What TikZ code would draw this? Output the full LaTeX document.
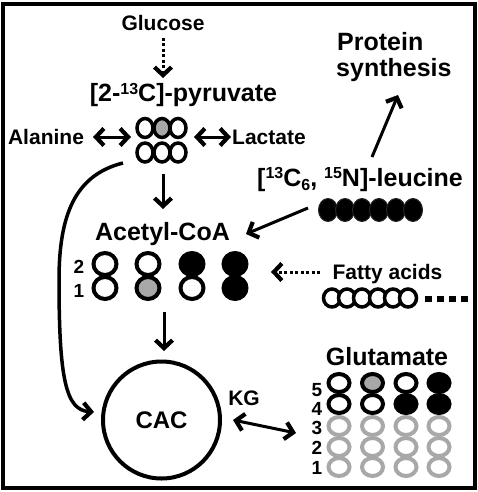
\documentclass[tikz,border=0pt]{standalone}
\usepackage{fontspec}
\setmainfont{Liberation Sans}
\usetikzlibrary{arrows.meta}
\newcommand\fsz[1]{\fontsize{#1}{#1}\selectfont\bfseries}
\newcommand\sps[1]{\raisebox{7.5pt}{\fontsize{16}{16}\selectfont #1}}
\newcommand\sbs[1]{\raisebox{-4pt}{\fontsize{16}{16}\selectfont #1}}
\definecolor{gry}{HTML}{A8A8A8}
\begin{document}
\begin{tikzpicture}[x=1pt,y=-1pt,
  lbl/.style={font=\fsz{21}, inner sep=0pt, anchor=base},
  big/.style={font=\fsz{25}, inner sep=0pt, anchor=base},
  num/.style={font=\fsz{19}, inner sep=0pt},
  tipv/.tip={Straight Barb[length=8pt,width=17pt,line width=4.2pt]},
  arr/.style={line width=3pt, -tipv},
  darr/.style={line width=3pt, tipv-tipv},
  dotarr/.style={line width=3pt, -tipv, dash pattern=on 3pt off 2.5pt},
  ring/.style={line width=3.5pt, draw=black},
  acring/.style={line width=4pt, draw=black},
  glring/.style={line width=4pt, draw=black},
  grring/.style={line width=4pt, draw=gry, fill=white}]
\useasboundingbox (0,0) rectangle (478,492);
\draw[line width=4pt] (3,4) rectangle (475,488);

% texts
\node[lbl] (glc) at (163,31) {Glucose};
\node[big] (pyr) at (183.5,102) {[2-\sps{13}C]-pyruvate};
\node[lbl] (ala) at (46,144) {Alanine};
\node[lbl] (lac) at (269,144) {Lactate};
\node[big, anchor=base west] (prot) at (337,51) {Protein};
\node[big, anchor=base west] (synth) at (336,77) {synthesis};
\node[big] (leu) at (360,186) {[\sps{13}C\sbs{6}, \sps{15}N]-leucine};
\node[big] (acoa) at (162.5,240) {Acetyl-CoA};
\node[lbl] (fa) at (387.5,279) {Fatty acids};
\node[big] (glu) at (387,365) {Glutamate};
\node[lbl] (kg) at (244,405) {KG};

% pyruvate carbons
\foreach \x/\f in {145/white,162/gry,178/white}
  \draw[ring,fill=\f] (\x,128) ellipse [x radius=8pt, y radius=9.5pt];
\foreach \x in {145,162,178}
  \draw[ring,fill=white] (\x,152.5) ellipse [x radius=8pt, y radius=9.5pt];

% leucine chain
\foreach \x in {328,345,362,379,396,413}
  \draw[line width=1pt, draw=black!85, fill=black] (\x,210) ellipse [x radius=9.5pt, y radius=11.5pt];

% fatty acid chain
\foreach \x in {332,347,362,378,393,408}
  \draw[ring,fill=white] (\x,298) ellipse [x radius=8.5pt, y radius=9pt];
\draw[line width=6.5pt, dash pattern=on 6.5pt off 5.5pt] (425,299) -- (469,299);

% acetyl-CoA
\node[num] (a2) at (79,267) {2};
\node[num] (a1) at (79,291) {1};
\foreach \x/\ft/\fb in {105/white/white,148/white/gry,192/black/white,235/black/black}{
  \draw[acring,fill=\fb] (\x,288) ellipse [x radius=11.5pt, y radius=11pt];
  \draw[acring,fill=\ft] (\x,264) ellipse [x radius=11.5pt, y radius=11pt];
}

% CAC
\node[circle, draw, line width=4pt, minimum size=117pt, inner sep=0pt, font=\fsz{24}] (cac) at (161.5,420) {CAC};

% glutamate
\foreach \n/\y in {5/390,4/409,3/428,2/448,1/468}
  \node[num] at (317,\y) {\n};
\foreach \x in {339,372.5,406,439}{
  \foreach \y in {467,447,426}
    \draw[grring] (\x,\y) ellipse [x radius=10.5pt, y radius=9pt];
}
\foreach \x/\ft/\fb in {339/white/white,372.5/gry/white,406/white/black,439/black/black}{
  \draw[glring,fill=\fb] (\x,404) ellipse [x radius=10.5pt, y radius=9pt];
  \draw[glring,fill=\ft] (\x,383) ellipse [x radius=10.5pt, y radius=9pt];
}

% connector end points
\coordinate (glcA) at (163,38);   \coordinate (glcB) at (163,78);
\coordinate (alaA) at (93,137);   \coordinate (alaB) at (131,137);
\coordinate (lacA) at (194,137);  \coordinate (lacB) at (231,137);
\coordinate (pyrA) at (163,174);  \coordinate (pyrB) at (163,209);
\coordinate (curA) at (123,163);  \coordinate (curB) at (94,412);
\coordinate (acA) at (164,312);   \coordinate (acB) at (164,351);
\coordinate (leuA) at (308,208);  \coordinate (leuB) at (246,234);
\coordinate (proA) at (372,157);  \coordinate (proB) at (398,95);
\coordinate (faA) at (320,272);   \coordinate (faB) at (271,272);
\coordinate (kgA) at (233,420);   \coordinate (kgB) at (296,433);

\draw[dotarr] (glcA) -- (glcB);
\draw[darr] (alaA) -- (alaB);
\draw[darr] (lacA) -- (lacB);
\draw[arr] (pyrA) -- (pyrB);
\draw[arr, line width=3.5pt] (curA) .. controls (75,175) and (59,215) .. (59,280)
   .. controls (59,380) and (66,410) .. (curB);
\draw[arr] (acA) -- (acB);
\draw[arr] (leuA) -- (leuB);
\draw[arr] (proA) -- (proB);
\draw[dotarr] (faA) -- (faB);
\draw[darr] (kgA) -- (kgB);
\end{tikzpicture}
\end{document}
